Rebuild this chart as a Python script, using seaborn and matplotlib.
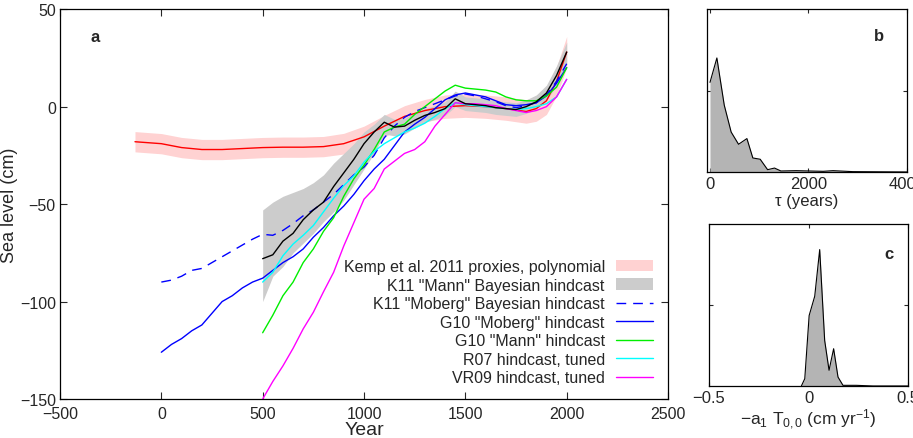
import numpy as np
import pandas as pd
import matplotlib
matplotlib.use('Agg')
import matplotlib.pyplot as plt
import seaborn as sns
from matplotlib.patches import Patch
from matplotlib.lines import Line2D

# Kemp et al. 2011 proxies, polynomial fit (mean and half band width)
kemp_years = [-130, 0, 100, 200, 300, 400, 500, 600, 700, 800, 900, 1000,
              1100, 1200, 1300, 1400, 1500, 1600, 1700, 1800, 1850, 1900, 1950, 2000]
kemp_mean = [-18, -19, -21, -22, -22, -21.5, -21, -20.8, -20.8, -20.5, -19, -15.5,
             -10, -5, -2, 0, 0.5, 0, -1, -2.5, -1, 3, 13, 28]
kemp_err = [5.2, 5.2, 5.2, 5.2, 5.2, 5.2, 5.2, 5.2, 5.2, 5.2, 5.3, 5.5,
            5.5, 5.5, 5.7, 6, 6, 6, 6, 6, 6.5, 7, 7.5, 8]

# yearly grids of the hindcasts
years_0 = [0, 50, 100, 150, 200, 250, 300, 350, 400, 450,
           500, 550, 600, 650, 700, 750, 800, 850, 900, 950,
           1000, 1050, 1100, 1150, 1200, 1250, 1300, 1350, 1400, 1450,
           1500, 1550, 1600, 1650, 1700, 1750, 1800, 1850, 1900, 1950, 2000]
years_500 = years_0[10:]

# K11 "Mann" Bayesian hindcast
k11_mann = [-78, -76, -69, -65, -58, -53, -49, -41, -34, -27,
            -19, -13, -8, -10.5, -10, -7, -4.5, -3, -1, 4,
            1.5, 1, 0.5, -0.5, -1, -1.5, 0, 2.5, 7, 16, 28]
k11_mann_lo = [-100, -87, -82, -75, -70, -65, -59, -54, -48, -40,
               -32, -24, -14, -15, -14, -11, -8, -6.5, -4.5, 0,
               -2, -2.5, -3, -4, -4.5, -5, -3.5, -1, 3, 11, 22]
k11_mann_hi = [-53, -49, -46, -44, -42, -39, -35, -29, -24, -19,
               -13, -9, -4, -6.5, -6, -3, -1, 0.5, 2.5, 8,
               5, 4.5, 4, 3, 2.5, 2, 3.5, 6, 11, 21, 33]

# K11 "Moberg" Bayesian hindcast
k11_moberg = [-90, -89, -87, -84, -83, -80, -77, -74, -71, -68,
              -65.5, -66, -63.5, -60, -56, -53, -49, -45, -40, -35,
              -31, -25, -16, -10, -5.5, -2.5, -0.5, 1.5, 3.5, 5.5,
              6.5, 5.5, 4, 2.5, 0.5, -0.5, 0.5, 2, 6, 13, 22]

# G10 "Moberg" hindcast
g10_moberg = [-126, -122, -119, -115, -112, -106, -100, -97, -93, -90,
              -88, -84, -80, -77, -73, -67, -62, -56, -51, -45,
              -38, -32, -27, -20, -13, -9, -5.5, -1, 3.5, 6,
              7, 6, 5, 3, 1, 0.5, 1, 2, 5.5, 12, 20]

# G10 "Mann" hindcast
g10_mann = [-116, -107, -97, -90, -80, -73, -64, -57, -46, -37,
            -30, -22, -13, -10.5, -9, -4, 0, 4, 8, 11,
            9.5, 9, 8.5, 7.5, 5, 3.5, 3, 3, 5.5, 10, 20]

# R07 hindcast, tuned
r07 = [-90, -85, -76.5, -70.5, -66, -61, -54, -47, -40.5, -35.5,
       -28.5, -23, -19, -16, -13, -11, -8.5, -5, -1, 2,
       1, 0.5, 0, -0.5, -1, -1.5, -1, 0, 1.5, 5, 14]

# VR09 hindcast, tuned
vr09 = [-150, -141, -133, -124, -114, -105.5, -95, -85, -71.5, -59.5,
        -47.5, -42, -32, -28, -24, -22, -18, -10, -4, 2,
        1.5, 1.5, 1, 0.5, -1, -2, -3, -2, 0, 5, 14]

# panel b: distribution of tau
tau_years = [0, 140, 290, 430, 580, 750, 870, 1020, 1170, 1310, 1440,
             1750, 2300, 2500, 2900, 4000]
tau_density = [0.55, 0.70, 0.41, 0.245, 0.17, 0.205, 0.086, 0.078, 0.014,
               0.024, 0.006, 0.008, 0.004, 0.008, 0.002, 0.0]

# panel c: distribution of -a1 T0,0
rate_vals = [-0.036, -0.019, 0.003, 0.031, 0.056, 0.081, 0.103, 0.126,
             0.148, 0.173, 0.24, 0.324, 0.5]
rate_density = [0, 0.045, 0.435, 0.554, 0.842, 0.281, 0.097, 0.230,
                0.055, 0.004, 0.004, 0, 0]

sns.set_style('ticks', {'xtick.direction': 'in', 'ytick.direction': 'in'})
plt.rcParams['font.family'] = ['Liberation Sans', 'DejaVu Sans']
plt.rcParams['mathtext.fontset'] = 'custom'
plt.rcParams['mathtext.rm'] = 'Liberation Sans'
plt.rcParams['mathtext.it'] = 'Liberation Sans'
plt.rcParams['axes.linewidth'] = 0.9
plt.rcParams['axes.edgecolor'] = 'black'

fig = plt.figure(figsize=(9.13, 4.39), dpi=100)
ax = fig.add_axes([0.0657, 0.0888, 0.666, 0.888])
axb = fig.add_axes([0.7744, 0.606, 0.219, 0.371])
axc = fig.add_axes([0.7766, 0.1185, 0.218, 0.369])

# ---- panel a ----
k_lo = np.array(kemp_mean) - np.array(kemp_err)
k_hi = np.array(kemp_mean) + np.array(kemp_err)
pink = '#ffd2d2'
grey = '#cccccc'
ax.fill_between(kemp_years, k_lo, k_hi, color=pink, lw=0, zorder=1)
ax.fill_between(years_500, k11_mann_lo, k11_mann_hi, color=grey, lw=0, zorder=2)

lw = 1.0
sns.lineplot(x=kemp_years, y=kemp_mean, color='red', lw=lw, ax=ax, zorder=3)
sns.lineplot(x=years_0, y=k11_moberg, color='blue', lw=lw, ax=ax, zorder=4,
             dashes=False).lines[-1].set_dashes((7, 5))
sns.lineplot(x=years_0, y=g10_moberg, color='blue', lw=lw, ax=ax, zorder=4)
sns.lineplot(x=years_500, y=g10_mann, color='#00ee00', lw=lw, ax=ax, zorder=4)
sns.lineplot(x=years_500, y=r07, color='cyan', lw=lw, ax=ax, zorder=4)
sns.lineplot(x=years_500, y=vr09, color='magenta', lw=lw, ax=ax, zorder=4)
sns.lineplot(x=years_500, y=k11_mann, color='black', lw=lw, ax=ax, zorder=5)

ax.set_xlim(-500, 2500)
ax.set_ylim(-150, 50)
ax.set_xticks([-500, 0, 500, 1000, 1500, 2000, 2500])
ax.set_yticks([-150, -100, -50, 0, 50])
ax.set_xlabel('Year', fontsize=14, labelpad=0)
ax.set_ylabel('Sea level (cm)', fontsize=13, labelpad=1)
ax.tick_params(labelsize=11.5, top=True, right=True, length=5, pad=3)
ax.tick_params(axis='x', pad=5)
ax.text(0.05, 0.93, 'a', transform=ax.transAxes, fontsize=12, fontweight='bold',
        va='center', ha='left')

handles = [
    Patch(facecolor=pink, edgecolor='none'),
    Patch(facecolor=grey, edgecolor='none'),
    Line2D([], [], color='blue', lw=lw, dashes=(7, 5)),
    Line2D([], [], color='blue', lw=lw),
    Line2D([], [], color='#00ee00', lw=lw),
    Line2D([], [], color='cyan', lw=lw),
    Line2D([], [], color='magenta', lw=lw),
]
labels = ['Kemp et al. 2011 proxies, polynomial',
          'K11 "Mann" Bayesian hindcast',
          'K11 "Moberg" Bayesian hindcast',
          'G10 "Moberg" hindcast',
          'G10 "Mann" hindcast',
          'R07 hindcast, tuned',
          'VR09 hindcast, tuned']
ax.legend(handles, labels, loc='lower right', bbox_to_anchor=(0.988, 0.015),
          frameon=False, markerfirst=False, fontsize=11.5, handlelength=2.3,
          handletextpad=0.7, labelspacing=0.22, borderpad=0)

# ---- panel b ----
axb.fill_between(tau_years, 0, tau_density, color='#b4b4b4', lw=0)
sns.lineplot(x=tau_years, y=tau_density, color='black', lw=0.8, ax=axb)
axb.set_xlim(-60, 4000)
axb.set_ylim(0, 1)
axb.set_xticks([0, 2000, 4000])
axb.set_yticks([0.5])
axb.set_yticklabels([])
axb.set_xlabel('τ (years)', fontsize=12, labelpad=1)
axb.tick_params(labelsize=12, top=True, right=True, length=3, pad=3)
axb.text(0.86, 0.84, 'b', transform=axb.transAxes, fontsize=12, fontweight='bold',
         ha='center', va='center')

# ---- panel c ----
axc.fill_between(rate_vals, 0, rate_density, color='#b4b4b4', lw=0)
sns.lineplot(x=rate_vals, y=rate_density, color='black', lw=0.8, ax=axc)
axc.set_xlim(-0.5, 0.5)
axc.set_ylim(0, 1)
axc.set_xticks([-0.5, 0, 0.5])
axc.set_xticklabels(['\u22120.5', '0', '0.5'])
axc.set_yticks([0.5])
axc.set_yticklabels([])
axc.set_xlabel(r'$-$a$_1$ T$_{0,0}$ (cm yr$^{-1}$)', fontsize=12.5, labelpad=1)
axc.tick_params(labelsize=12, top=True, right=True, length=3, pad=3)
axc.text(0.905, 0.82, 'c', transform=axc.transAxes, fontsize=12, fontweight='bold',
         ha='center', va='center')

fig.savefig('out.png', dpi=100)
